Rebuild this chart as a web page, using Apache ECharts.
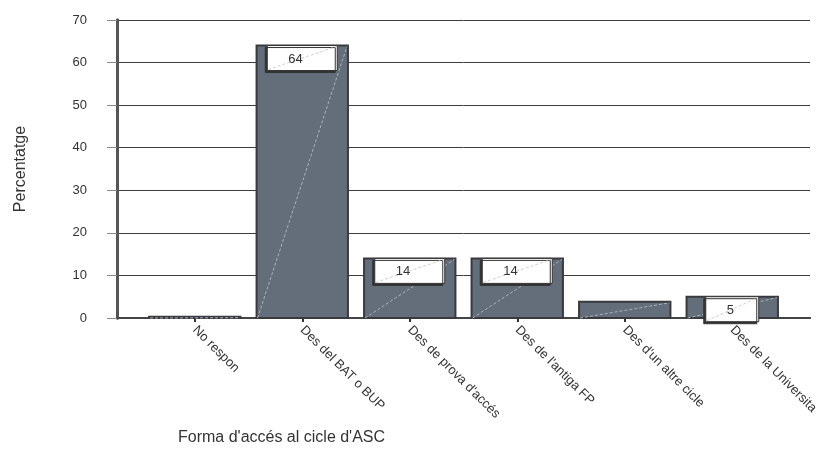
<!DOCTYPE html>
<html>
<head>
<meta charset="utf-8">
<script src="https://cdn.jsdelivr.net/npm/echarts@6/dist/echarts.min.js"></script>
<style>
  html, body { margin: 0; padding: 0; background: #fff; }
  #chart { width: 826px; height: 471px; }
</style>
</head>
<body>
<div id="chart"></div>
<script>
// Access routes to the ASC cycle, percentage of respondents
const categories = ["No respon", "Des del BAT o BUP", "Des de prova d'accés", "Des de l'antiga FP", "Des d'un altre cicle", "Des de la Universita"];
const percentages = [0.3, 64, 14, 14, 3.8, 5];
const showValue = [false, true, true, true, false, true];
const yTicks = [0, 10, 20, 30, 40, 50, 60, 70];

const yAxisTitle = "Percentatge";
const xAxisTitle = "Forma d'accés al cicle d'ASC";

const FONT = "Liberation Sans, Arial, sans-serif";

const chart = echarts.init(document.getElementById('chart'));

function renderBar(params, api) {
  const i = params.dataIndex;
  const v = api.value(1);
  const base = api.coord([api.value(0), 0]);
  const top = api.coord([api.value(0), v]);
  const w = api.size([1, 0])[0] * 0.85;
  const x0 = base[0] - w / 2;
  const h = base[1] - top[1];
  const children = [
    {
      type: 'rect',
      shape: { x: x0, y: top[1], width: w, height: h },
      style: { fill: '#636e7a', stroke: '#3a3a3e', lineWidth: 2 }
    },
    {
      type: 'line',
      shape: { x1: x0 + 1, y1: base[1], x2: x0 + w - 1, y2: top[1] + 1 },
      style: { stroke: '#a9b3be', lineWidth: 1, lineDash: [3, 2] }
    }
  ];
  if (showValue[i]) {
    const txt = String(Math.round(v));
    const bw = txt.length === 1 ? 53 : 70;
    const bh = 25;
    const bx = base[0] - bw / 2;
    const by = top[1];
    children.push({
      type: 'rect',
      shape: { x: bx, y: by, width: bw, height: bh },
      style: {
        fill: '#ffffff', stroke: '#333', lineWidth: 1,
        shadowColor: '#333', shadowOffsetX: -2, shadowOffsetY: 2, shadowBlur: 0
      }
    });
    children.push({
      type: 'line',
      shape: { x1: bx + 1, y1: by + bh - 1, x2: bx + bw - 1, y2: by + 1 },
      style: { stroke: '#cfcfcf', lineWidth: 1, lineDash: [3, 2] }
    });
    children.push({
      type: 'text',
      style: {
        text: txt, x: bx + 21, y: by + bh / 2 + 1,
        font: '13px ' + FONT, fill: '#333',
        textAlign: 'left', textVerticalAlign: 'middle', verticalAlign: 'middle'
      }
    });
  }
  return { type: 'group', children: children };
}

const option = {
  animation: false,
  backgroundColor: '#ffffff',
  textStyle: { fontFamily: FONT },
  grid: [
    // plot frame, gridlines and y scale
    { left: 117, right: 16, top: 20, bottom: 153, containLabel: false },
    // category band for the bars
    { left: 141, width: 645, top: 20, bottom: 153, containLabel: false }
  ],
  xAxis: [
    {
      gridIndex: 0, type: 'value', min: 0, max: 1, position: 'bottom',
      axisLine: { show: true, lineStyle: { color: '#333', width: 2 } },
      axisTick: { show: false }, axisLabel: { show: false }, splitLine: { show: false }
    },
    {
      gridIndex: 0, type: 'value', min: 0, max: 1, position: 'top',
      axisLine: { show: true, lineStyle: { color: '#444', width: 2 } },
      axisTick: { show: false }, axisLabel: { show: false }, splitLine: { show: false }
    },
    {
      gridIndex: 1, type: 'category', data: categories, boundaryGap: true,
      axisLine: { show: false },
      axisTick: { show: true, alignWithLabel: true, length: 4, lineStyle: { color: '#333', width: 2 } },
      axisLabel: {
        rotate: -45, margin: 10, fontSize: 13, color: '#333', fontFamily: FONT, interval: 0
      },
      splitLine: { show: false }
    }
  ],
  yAxis: [
    {
      gridIndex: 0, type: 'value', min: yTicks[0], max: yTicks[yTicks.length - 1], interval: 10,
      name: yAxisTitle, nameLocation: 'middle', nameGap: 88,
      nameTextStyle: { fontSize: 16, color: '#333', fontFamily: FONT },
      axisLine: { show: true, lineStyle: { color: '#3a3a3e', width: 3 } },
      axisTick: { show: true, length: 10, lineStyle: { color: '#888', width: 1 } },
      axisLabel: { margin: 30, fontSize: 13, color: '#333', fontFamily: FONT },
      splitLine: { show: true, lineStyle: { color: '#3c3c3c', width: 1 } }
    },
    {
      gridIndex: 0, type: 'value', min: 0, max: 70, position: 'right',
      axisLine: { show: true, lineStyle: { color: '#555', width: 3 } },
      axisTick: { show: false }, axisLabel: { show: false }, splitLine: { show: false }
    },
    {
      gridIndex: 1, type: 'value', min: 0, max: 70, show: false
    }
  ],
  graphic: [
    {
      type: 'text', left: 178, top: 430,
      style: { text: xAxisTitle, font: '16px ' + FONT, fill: '#333' }
    }
  ],
  series: [
    {
      type: 'custom',
      xAxisIndex: 2, yAxisIndex: 2,
      renderItem: renderBar,
      encode: { x: 0, y: 1 },
      data: categories.map((c, i) => [i, percentages[i]]),
      z: 3
    }
  ]
};

chart.setOption(option);
</script>
</body>
</html>
